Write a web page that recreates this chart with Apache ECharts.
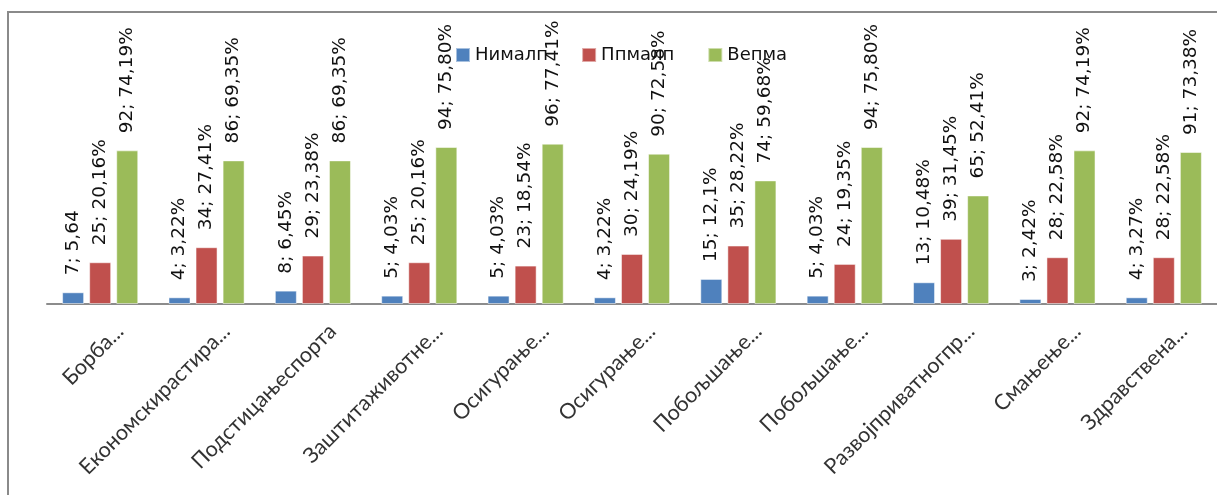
<!DOCTYPE html>
<html>
<head>
<meta charset="utf-8">
<script src="https://cdn.jsdelivr.net/npm/echarts@6/dist/echarts.min.js"></script>
<style>
html,body{margin:0;padding:0;background:#fff;}
#chart{width:1217px;height:495px;}
</style>
</head>
<body>
<div id="chart"></div>
<script>
const categories = ["Борба...", "Економскирастира...", "Подстицањеспорта", "Заштитаживотне...", "Осигурање...", "Осигурање...", "Побољшање...", "Побољшање...", "Развојприватногпр...", "Смањење...", "Здравствена..."];
const seriesNames = ["Нималп", "Ппмалп", "Вепма"];
const valuesLow = [7, 4, 8, 5, 5, 4, 15, 5, 13, 3, 4];
const valuesMid = [25, 34, 29, 25, 23, 30, 35, 24, 39, 28, 28];
const valuesHigh = [92, 86, 86, 94, 96, 90, 74, 94, 65, 92, 91];
const pctLow = ["5,64", "3,22%", "6,45%", "4,03%", "4,03%", "3,22%", "12,1%", "4,03%", "10,48%", "2,42%", "3,27%"];
const pctMid = ["20,16%", "27,41%", "23,38%", "20,16%", "18,54%", "24,19%", "28,22%", "19,35%", "31,45%", "22,58%", "22,58%"];
const pctHigh = ["74,19%", "69,35%", "69,35%", "75,80%", "77,41%", "72,58%", "59,68%", "75,80%", "52,41%", "74,19%", "73,38%"];

const colors = ["#4F81BD", "#C0504D", "#9BBB59"];
const chart = echarts.init(document.getElementById('chart'), null, {renderer: 'canvas'});

function mkSeries(name, vals, pcts, color) {
  return {
    name: name,
    type: 'bar',
    data: vals,
    barWidth: 22,
    barGap: '23%',
    itemStyle: {color: color, borderColor: 'rgba(255,255,255,0.5)', borderWidth: 1},
    label: {
      show: true,
      position: 'top',
      rotate: 90,
      align: 'left',
      verticalAlign: 'middle',
      distance: 17,
      fontFamily: 'DejaVu Sans',
      fontSize: 18.5,
      color: '#111',
      formatter: function (p) { return vals[p.dataIndex] + '; ' + pcts[p.dataIndex]; }
    },
    z: 2
  };
}

chart.setOption({
  animation: false,
  backgroundColor: '#fff',
  graphic: [{
    type: 'rect',
    shape: {x: 8, y: 12, width: 1400, height: 700},
    style: {fill: 'none', stroke: '#8a8a8a', lineWidth: 2},
    silent: true
  }],
  legend: {
    data: seriesNames,
    left: 450,
    top: 41,
    itemWidth: 14,
    itemHeight: 14,
    itemGap: 33,
    icon: 'rect',
    textStyle: {fontFamily: 'DejaVu Sans', fontSize: 18, color: '#111'},
    z: 1
  },
  grid: {left: 47, right: -14, top: 137, bottom: 191, containLabel: false},
  xAxis: {
    type: 'category',
    data: categories,
    axisLine: {lineStyle: {color: '#8c8c8c', width: 2}},
    axisTick: {show: false},
    axisLabel: {
      interval: 0,
      rotate: 45,
      margin: 4,
      align: 'right',
      verticalAlign: 'top',
      padding: [17, 0, 0, 0],
      fontFamily: 'Lato',
      fontSize: 21.5,
      color: '#333'
    }
  },
  yAxis: {
    type: 'value',
    min: 0,
    max: 100,
    show: false,
    splitLine: {show: false}
  },
  series: [
    mkSeries(seriesNames[0], valuesLow, pctLow, colors[0]),
    mkSeries(seriesNames[1], valuesMid, pctMid, colors[1]),
    mkSeries(seriesNames[2], valuesHigh, pctHigh, colors[2])
  ]
});
</script>
</body>
</html>
